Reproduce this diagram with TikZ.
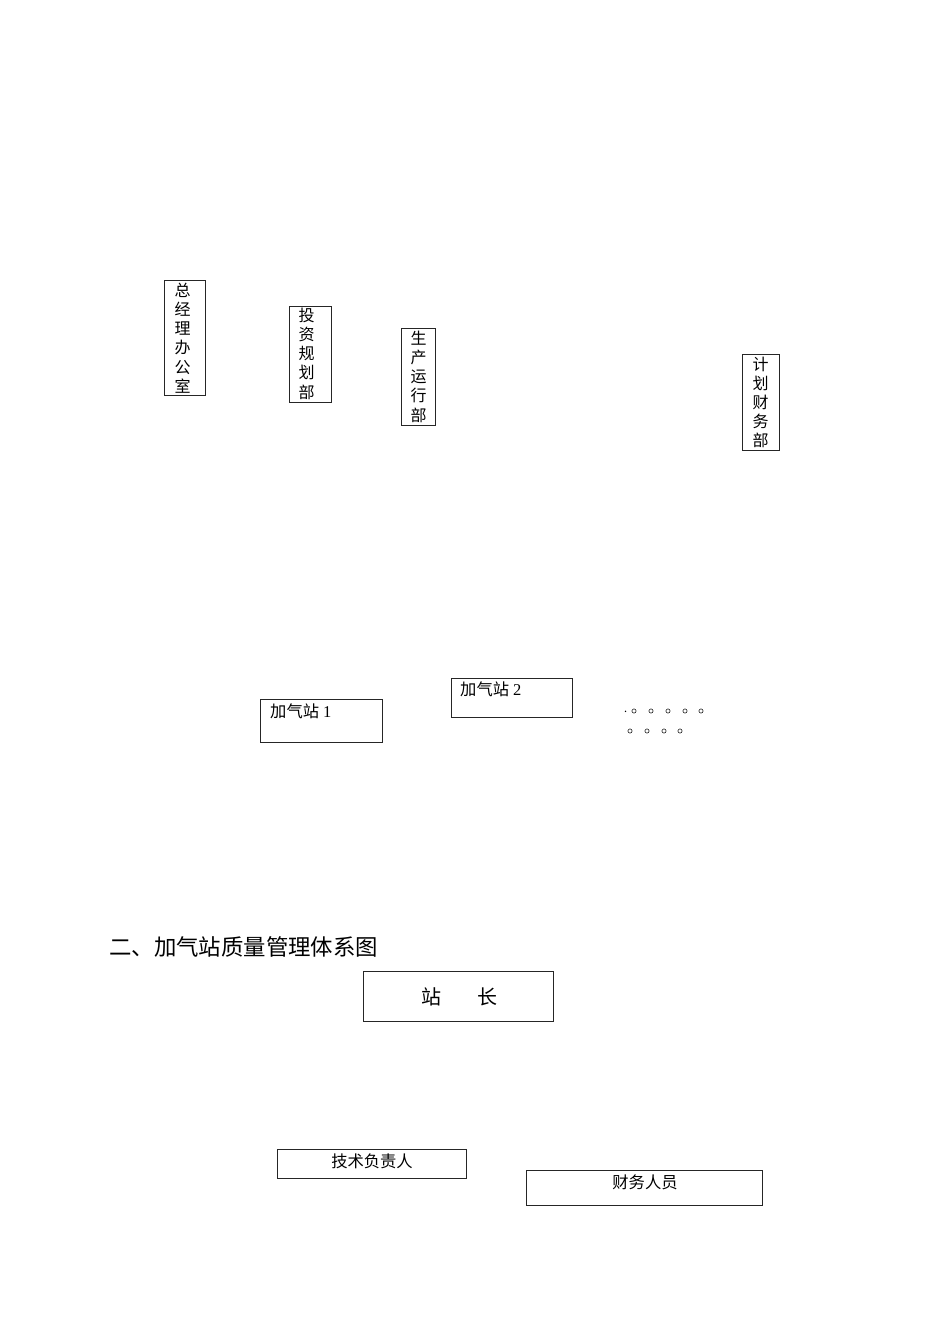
\documentclass[tikz,border=0pt]{standalone}
\usepackage{fontspec}
\setmainfont{Liberation Serif}
\newfontfamily\cjk{Noto Sans CJK SC}
\begin{document}
\begin{tikzpicture}[x=1pt,y=-1pt,
  box/.style={draw=black!85,line width=0.9pt},
  vtxt/.style={font=\cjk\fontsize{16}{19.1}\selectfont,align=center,inner sep=0pt},
  htxt/.style={font=\cjk\fontsize{16.3}{18}\selectfont,inner sep=0pt},
  dot/.style={font=\cjk\fontsize{11}{11}\selectfont,inner sep=0pt}]
\useasboundingbox (0,0) rectangle (950,1344);
% vertical department boxes
\draw[box] (164,280) rectangle (205,395);
\node[vtxt,anchor=north] (zj) at (182.5,283) {总\\经\\理\\办\\公\\室};
\draw[box] (289,306) rectangle (331,402);
\node[vtxt,anchor=north] (tz) at (306.5,308) {投\\资\\规\\划\\部};
\draw[box] (401,328) rectangle (435,425);
\node[vtxt,anchor=north] (sc) at (418.5,331) {生\\产\\运\\行\\部};
\draw[box] (742,354) rectangle (779,450);
\node[vtxt,anchor=north] (jh) at (760.5,357) {计\\划\\财\\务\\部};
% stations
\draw[box] (260,699) rectangle (382,742);
\node[htxt,anchor=west] (z1) at (270,711) {加气站{\fontsize{16.5}{18}\selectfont\rmfamily\ 1}};
\draw[box] (451,678) rectangle (572,717);
\node[htxt,anchor=west] (z2) at (460,689.5) {加气站{\fontsize{16.5}{18}\selectfont\rmfamily\ 2}};
% dots
\node[dot,anchor=west] (d1) at (624,712) {.};
\foreach \x/\n in {634/a,651/b,668/c,685/d,701/e}
  \draw[line width=0.5pt] (\x,711) circle (2.1);
\foreach \x in {630,647,664,680}
  \draw[line width=0.5pt] (\x,731) circle (2.1);
% second section
\node[font=\cjk\fontsize{22.4}{24}\selectfont,anchor=west,inner sep=0pt] (title) at (109,947) {二、加气站质量管理体系图};
\draw[box] (363,971) rectangle (553,1021);
\node[font=\cjk\fontsize{20}{22}\selectfont,inner sep=0pt] (zz) at (431,997) {站};
\node[font=\cjk\fontsize{20}{22}\selectfont,inner sep=0pt] (zc) at (487,997) {长};
\draw[box] (277,1149) rectangle (466,1178);
\node[htxt] (js) at (372,1161) {技术负责人};
\draw[box] (526,1170) rectangle (762,1205);
\node[htxt] (cw) at (645,1182) {财务人员};
\end{tikzpicture}
\end{document}
